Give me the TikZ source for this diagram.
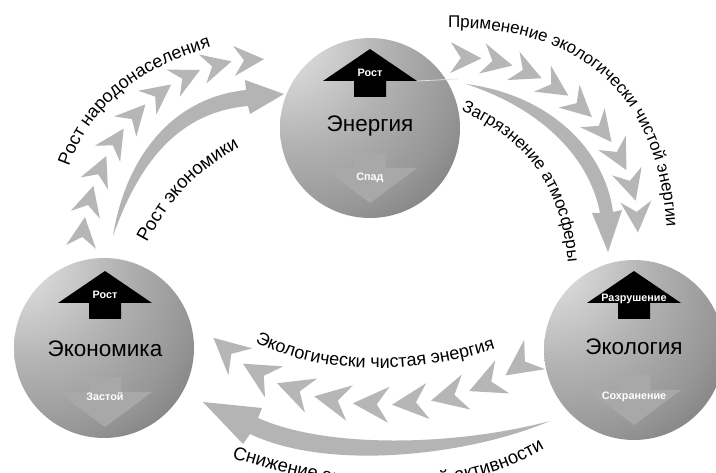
\documentclass[tikz,border=0pt]{standalone}
\usepackage{fontspec}
\setmainfont{Liberation Sans}
\usetikzlibrary{decorations.text,decorations.markings}
\definecolor{chevg}{HTML}{B6B6B6}
\definecolor{thickg}{HTML}{B4B4B4}
\definecolor{downg}{HTML}{A8A8A8}
\pgfdeclareradialshading{sph}{\pgfpoint{-28bp}{28bp}}{color(0bp)=(white); color(3bp)=(white); color(10bp)=(black!16); color(25bp)=(black!30); color(40bp)=(black!41); color(60bp)=(black!62); color(80bp)=(black!80); color(95bp)=(black!88)}
\newcommand\chev[1][1]{\fill[chevg, scale=#1] (15,0) -- (-15,15) -- (-5,0) -- (-15,-15) -- cycle;}
\tikzset{
  sphere/.style={circle, minimum size=180pt, inner sep=0pt, shading=sph},
  biglabel/.style={font=\fontsize{22.5}{26}\selectfont, anchor=base, inner sep=0pt},
  arrlabel/.style={font=\bfseries\fontsize{10.8}{12}\selectfont, text=white, inner sep=0pt},
  uparrow/.pic={\fill[black] (0,-32) -- (47,0) -- (16,0) -- (16,16) -- (-16,16) -- (-16,0) -- (-47,0) -- cycle;},
  downarrow/.pic={\fill[downg] (-16,-15) -- (16,-15) -- (16,0) -- (47,0) -- (0,35) -- (-47,0) -- (-16,0) -- cycle;},
}
\begin{document}
\begin{tikzpicture}[x=1pt,y=-1pt]
\useasboundingbox (0,0) rectangle (716,473);
\fill[white] (0,0) rectangle (716,473);

% chevron streams
\path[postaction={decorate}, decoration={markings, mark=between positions 0 and 1 step 0.1245 with {\chev}}]
  (83,232) .. controls (95,140) and (160,65) .. (250,60);
\path[postaction={decorate}, decoration={markings, mark=between positions 0 and 1 step 0.1245 with {\chev[1.03]}}]
  (466,58) .. controls (550,60) and (632,134) .. (637,218);
\path[postaction={decorate}, decoration={markings, mark=between positions 0 and 1 step 0.1245 with {\chev[1.2]}}]
  (520,365) .. controls (450,415) and (310,425) .. (226,349);

% thick tapered arrows
\fill[thickg] (113,236) .. controls (125,160) and (170,98) .. (246,90)
  -- (245,80) -- (284,94) -- (250,114) -- (248,106)
  .. controls (180,112) and (140,160) .. (113,236) -- cycle;
\fill[thickg] (466,84) .. controls (550,95) and (605,150) .. (613,212)
  -- (622,210) -- (608,252) -- (592,213) -- (600,213)
  .. controls (590,160) and (545,110) .. (466,84) -- cycle;
\fill[thickg] (550,421) .. controls (460,445) and (330,450) .. (258,418)
  -- (262,408) -- (203,402) -- (243,444) -- (250,434)
  .. controls (330,472) and (470,455) .. (550,421) -- cycle;

% curved texts
\path[decorate, decoration={text along path, text align=left, text={|\fontsize{18}{20}\selectfont|Рост народонаселения}}]
  (69,167) .. controls (92,102) and (142,62) .. (245,38);
\path[decorate, decoration={text along path, text align=left, text={|\fontsize{18.5}{21}\selectfont|Рост экономики}}]
  (147,243) .. controls (175,190) and (205,160) .. (280,128);
\path[decorate, decoration={text along path, text align=left, text={|\fontsize{17}{20}\selectfont|Применение экологически чистой энергии}}]
  (448,28) .. controls (590,26) and (680,105) .. (666,290);
\path[decorate, decoration={text along path, text align=left, text={|\fontsize{17}{20}\selectfont|Загрязнение атмосферы}}]
  (461,111) .. controls (530,140) and (572,195) .. (569,300);
\path[decorate, decoration={text along path, text align=left, text={|\fontsize{18}{20}\selectfont|Экологически чистая энергия}}]
  (255,342) .. controls (330,380) and (440,375) .. (530,336);
\path[decorate, decoration={text along path, text align=left, text={|\fontsize{18.5}{21}\selectfont|Снижение экономической активности}}]
  (232,458) .. controls (310,482) and (455,522) .. (575,428);

% spheres
\node[sphere] (en) at (370,128) {};
\node[sphere] (ec) at (104,348) {};
\node[sphere] (eco) at (634,350) {};

\draw[white!80!gray, line width=0.7] (417,81) -- (458,79);

\pic at (370,81) {uparrow};
\pic at (370,168) {downarrow};
\pic at (105,303) {uparrow};
\pic at (105,392) {downarrow};
\pic at (634,303) {uparrow};
\pic at (634,390) {downarrow};

\node[biglabel] (enl) at (370,132) {Энергия};
\node[biglabel] (ecl) at (105,357) {Экономика};
\node[biglabel] (ecol) at (634,355) {Экология};

\node[arrlabel] (enu) at (370,73) {Рост};
\node[arrlabel] (end) at (370,178) {Спад};
\node[arrlabel] (ecu) at (105,295) {Рост};
\node[arrlabel] (ecd) at (105,397) {Застой};
\node[arrlabel] (ecou) at (634,299) {Разрушение};
\node[arrlabel] (ecod) at (634,397) {Сохранение};
\end{tikzpicture}
\end{document}
